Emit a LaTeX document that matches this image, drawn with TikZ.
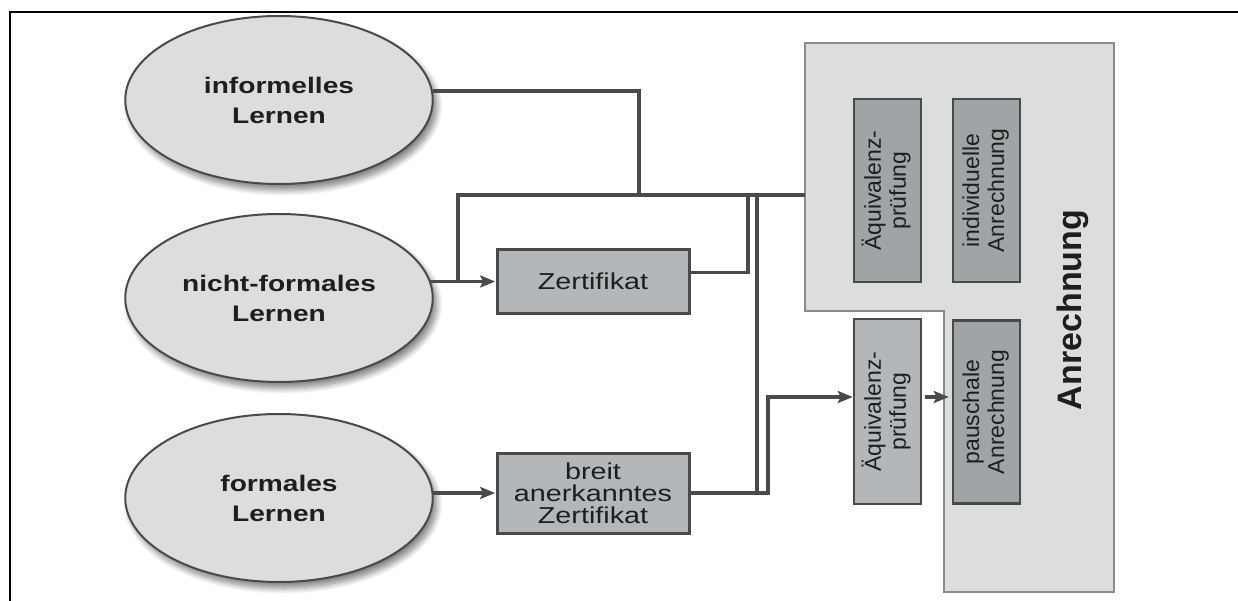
\documentclass[tikz,border=0pt]{standalone}
\usepackage{fontspec}
\setmainfont{Liberation Sans}
\usepackage{graphicx}
\usetikzlibrary{arrows.meta,positioning,calc,shapes.geometric,shadows.blur}
\definecolor{ink}{HTML}{4A4A4A}
\definecolor{txt}{HTML}{1E1E1E}
\definecolor{ovalfill}{HTML}{DCDDDD}
\definecolor{regfill}{HTML}{DCDDDD}
\definecolor{regline}{HTML}{8A8A8A}
\definecolor{boxlight}{HTML}{B4B7BA}
\definecolor{boxdark}{HTML}{A1A4A6}
\newcommand{\vtext}[1]{\rotatebox{90}{\begin{tabular}{@{}c@{}}#1\end{tabular}}}

\begin{document}
\begin{tikzpicture}[x=1pt, y=-1pt, line join=miter,
  oval/.style={ellipse, draw=ink, line width=2pt, fill=ovalfill, xscale=1.25,
               minimum width=246pt, minimum height=168pt, inner sep=0pt,
               align=center, text=txt, font=\fontsize{22.5}{30}\selectfont\bfseries,
               blur shadow={shadow xshift=4pt, shadow yshift=-6pt,
                            shadow blur steps=10, shadow blur radius=6pt,
                            shadow opacity=50}},
  cert/.style={draw=ink, line width=3pt, fill=boxlight, xscale=1.25, inner sep=0pt,
               minimum width=153.6pt, align=center, text=txt,
               font=\fontsize{23}{22}\selectfont},
  vbox/.style={draw=ink, line width=2.5pt, inner sep=0pt,
               minimum width=67pt, minimum height=183pt, text=txt,
               font=\fontsize{23}{25}\selectfont},
  conn/.style={draw=ink, line width=3.2pt},
  arr/.style={conn, -{Stealth[length=15pt, width=12pt, inset=3pt]}}]

\useasboundingbox (0,0) rectangle (1238,601);

% ---- page frame ---------------------------------------------------------
\draw[black, line width=2pt] (10,601) -- (10,12) -- (1238,12);

% ---- forms of learning ----------------------------------------------------
\node[oval] (informell)   at (279,100) {informelles\\Lernen};
\node[oval] (nichtformal) at (279,298) {nicht-formales\\Lernen};
\node[oval] (formal)      at (279,498) {formales\\Lernen};

% ---- certificates ---------------------------------------------------------
\node[cert, minimum height=63pt] (zert)  at (593,281.5) {Zertifikat};
\node[cert, minimum height=80pt] (breit) at (593,493) {breit\\anerkanntes\\Zertifikat};

% ---- Anrechnung region ----------------------------------------------------
\draw[draw=regline, fill=regfill, line width=2pt]
  (805,43) -- (1114,43) -- (1114,592) -- (944,592) -- (944,311) -- (805,311) -- cycle;
\node[vbox, fill=boxdark] (pruef1) at (887.5,190.5) {\vtext{Äquivalenz-\\prüfung}};
\node[vbox, fill=boxdark] (indiv)  at (986.5,190.5) {\vtext{individuelle\\Anrechnung}};
\node[vbox, fill=boxlight, minimum height=185pt] (pruef2) at (887.5,411.5) {\vtext{Äquivalenz-\\prüfung}};
\node[vbox, fill=boxdark] (pausch) at (986.5,412) {\vtext{pauschale\\Anrechnung}};
\node[rotate=90, text=txt, font=\fontsize{34}{34}\selectfont\bfseries]
  (anr) at (1073,310) {Anrechnung};

% ---- connectors -----------------------------------------------------------
\coordinate (anrIn) at (805,195);
\coordinate (knot)  at (639,195);
\coordinate (split) at (458,281.5);
\coordinate (zup)   at (748,195);
\coordinate (rise)  at (757,195);
\coordinate (bend)  at (768,493);

\draw[conn] ($(informell.east)+(-1,-9)$) -| (knot);
\draw[conn] (split) |- (anrIn);
\draw[arr, shorten <=-4pt] (nichtformal.east |- zert.west) -- (zert.west);
\draw[conn] ($(zert.east)+(0,-9)$) -| (zup);
\draw[conn] (rise) -- (rise |- breit.east);
\draw[arr, shorten <=-2pt] (formal.east |- breit.west) -- (breit.west);
\draw[arr] (breit.east) -- (bend) |- ($(pruef2.west)+(0,-14.5)$);
\draw[arr, shorten <=3pt, shorten >=3pt] ($(pruef2.east)+(0,-14.5)$) -- ($(pausch.west)+(0,-15)$);

\end{tikzpicture}
\end{document}
